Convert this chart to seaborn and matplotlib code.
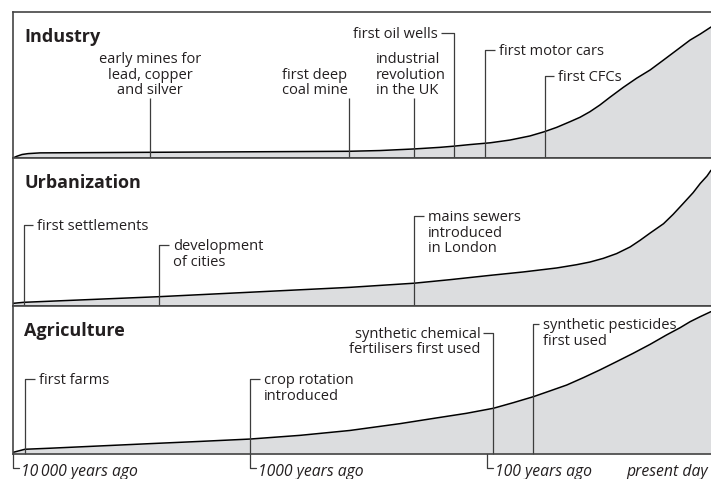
import matplotlib
matplotlib.use("Agg")
import matplotlib.pyplot as plt
import seaborn as sns

# ---- data: years ago vs. relative human impact (0-100) ----
industry_years = [10000, 9630, 9160, 8640, 7690, 2640, 382, 283, 203, 158, 138, 118,
                  97.1, 80.0, 65.9, 57.3, 50.8, 44.6, 40.5, 36.8, 33.4, 30.3, 26.6, 23.4,
                  20.5, 18.0, 15.8, 13.9, 12.6, 11.35]
industry_level = [0, 1.2, 2.4, 3.0, 3.5, 3.9, 4.6, 5.1, 6.2, 7.3, 8.1, 9.2,
                  10.4, 12.3, 15.1, 18.0, 21.0, 24.9, 27.9, 31.7, 36.3, 41.6, 48.4, 54.6,
                  60.3, 67.1, 74.0, 80.8, 84.9, 89.7]

urban_years = [10000, 8990, 2420, 1000, 379, 203, 143, 97.1, 70.3, 50.8, 41.9, 36.8,
               32.3, 28.4, 24.9, 22.6, 20.5, 18.0, 16.4, 14.9, 13.5, 12.6, 11.8, 11.35]
urban_level = [1.8, 2.5, 6.3, 9.3, 12.6, 15.4, 17.8, 20.7, 23.0, 25.7, 27.9, 29.7,
               32.2, 35.4, 39.9, 44.4, 49.3, 55.6, 61.9, 69.1, 76.6, 82.8, 87.8, 91.7]

agri_years = [10000, 8900, 6980, 2640, 1626, 1000, 615, 379, 233, 169, 122, 94, 77.4,
              63.8, 54.3, 46.1, 39.2, 33.4, 28.4, 24.2, 20.5, 17.5, 15.3, 13.9, 12.6, 11.35]
agri_level = [1.1, 3.2, 3.9, 7.0, 8.5, 10.1, 12.6, 15.9, 20.5, 24.0, 27.5, 30.9, 34.7,
              38.7, 42.6, 46.6, 51.6, 56.8, 62.4, 68.0, 74.1, 80.4, 85.4, 89.4, 92.8, 96.2]

industry_events = ["early mines for\nlead, copper\nand silver", "first deep\ncoal mine",
                   "industrial\nrevolution\nin the UK", "first oil wells",
                   "first motor cars", "first CFCs"]
industry_event_years = [2640, 382, 203, 138, 102, 57]

urban_events = ["first settlements", "development\nof cities", "mains sewers\nintroduced\nin London"]
urban_event_years = [9000, 2420, 203]

agri_events = ["first farms", "crop rotation\nintroduced",
               "synthetic chemical\nfertilisers first used", "synthetic pesticides\nfirst used"]
agri_event_years = [8900, 1000, 94, 64]

panel_titles = ["Industry", "Urbanization", "Agriculture"]

tick_years = [10000, 1000, 100]
tick_labels = ["10\u2009000 years ago", "1000 years ago", "100 years ago"]
present_label = "present day"

# ---- layout of the callouts: (style, height, pixel offset) ----
industry_layout = [("above", 41, 0), ("above_r", 41, -1), ("above_c", 41, -3),
                   ("right", 85.6, 13), ("left", 74, 10), ("left", 56.2, 9)]
urban_layout = [("left", 54.7, 9), ("left", 41.2, 10), ("left", 60.8, 10)]
agri_layout = [("left", 50.7, 10), ("left", 50.7, 10), ("right", 81.8, 10), ("left", 87.8, 6)]

FILL = "#dcdddf"
INK = "#231f20"
RULE = "#3c3c3c"
FS = 10.5
LS = 1.05

sns.set_theme(style="white")
plt.rcParams["font.family"] = ["Open Sans", "DejaVu Sans"]

W, H = 711, 479
fig = plt.figure(figsize=(W / 100, H / 100), dpi=100)

# pixel rows of the three panels (top, bottom)
rows = [(12, 158), (158, 306), (306, 454)]
left_px = 13


def shift(ax, x, px):
    # move a data x value by some pixels on screen
    d = ax.transData.transform((x, 0))[0] + px
    return ax.transData.inverted().transform((d, 0))[0]


def callout(ax, year, text, style, y, off):
    kw = dict(color=RULE, lw=0.9, clip_on=False, solid_capstyle="butt")
    tkw = dict(fontsize=FS, color=INK, linespacing=LS, textcoords="offset pixels",
               annotation_clip=False)
    if style.startswith("above"):
        ax.plot([year, year], [0, y], **kw)
        ha, ma = "center", "center"
        if style == "above_r":
            ha, ma = "right", "left"
        elif style == "above_c":
            ma = "left"
        ax.annotate(text, (year, y), xytext=(off, 0), ha=ha, va="bottom", ma=ma, **tkw)
    elif style == "left":
        xe = shift(ax, year, off)
        ax.plot([year, year, xe], [0, y, y], **kw)
        ax.annotate(text, (year, y), xytext=(off + 4, 6), ha="left", va="top", **tkw)
    else:
        xe = shift(ax, year, -off)
        ax.plot([year, year, xe], [0, y, y], **kw)
        ax.annotate(text, (year, y), xytext=(-off - 3, 6), ha="right", va="top",
                    ma="right", **tkw)


panels = [
    (industry_years, industry_level, industry_events, industry_event_years, industry_layout),
    (urban_years, urban_level, urban_events, urban_event_years, urban_layout),
    (agri_years, agri_level, agri_events, agri_event_years, agri_layout),
]

axes = []
for i, (yrs, lvl, evs, ev_yrs, lay) in enumerate(panels):
    top, bot = rows[i]
    ax = fig.add_axes([left_px / W, 1 - bot / H, 1 - left_px / W, (bot - top) / H])
    ax.set_xscale("log")
    ax.set_xlim(10000, 11.35)
    ax.set_ylim(0, 100)
    ax.fill_between(yrs, lvl, 0, color=FILL, lw=0)
    sns.lineplot(x=yrs, y=lvl, ax=ax, color="black", lw=1.1, estimator=None, sort=False)
    for sp in ["left", "top", "bottom"]:
        ax.spines[sp].set_color("#444444")
        ax.spines[sp].set_linewidth(1.2)
    ax.spines["right"].set_visible(False)
    ax.set_xticks([])
    ax.set_yticks([])
    ax.minorticks_off()
    ax.set_xlabel("")
    ax.set_ylabel("")
    ax.text(0.016, 0.83, panel_titles[i], transform=ax.transAxes, fontsize=13,
            fontweight="bold", color=INK, va="center", ha="left")
    for yr, txt, (style, y, off) in zip(ev_yrs, evs, lay):
        callout(ax, yr, txt, style, y, off)
    axes.append(ax)

# time markers under the bottom panel
ax = axes[-1]
yb = -14 / 148 * 100
for yr, lab in zip(tick_years, tick_labels):
    x1 = shift(ax, yr, 6)
    ax.plot([yr, yr, x1], [0, yb, yb], color=RULE, lw=0.9, clip_on=False)
    ax.annotate(lab, (yr, yb), xytext=(8, -4), textcoords="offset pixels",
                ha="left", va="center", fontsize=11.3, style="italic", color=INK,
                annotation_clip=False)
ax.annotate(present_label, (11.35, yb), xytext=(-3, -4), textcoords="offset pixels",
            ha="right", va="center", fontsize=11.3, style="italic", color=INK,
            annotation_clip=False)

fig.savefig("out.png", dpi=100)
